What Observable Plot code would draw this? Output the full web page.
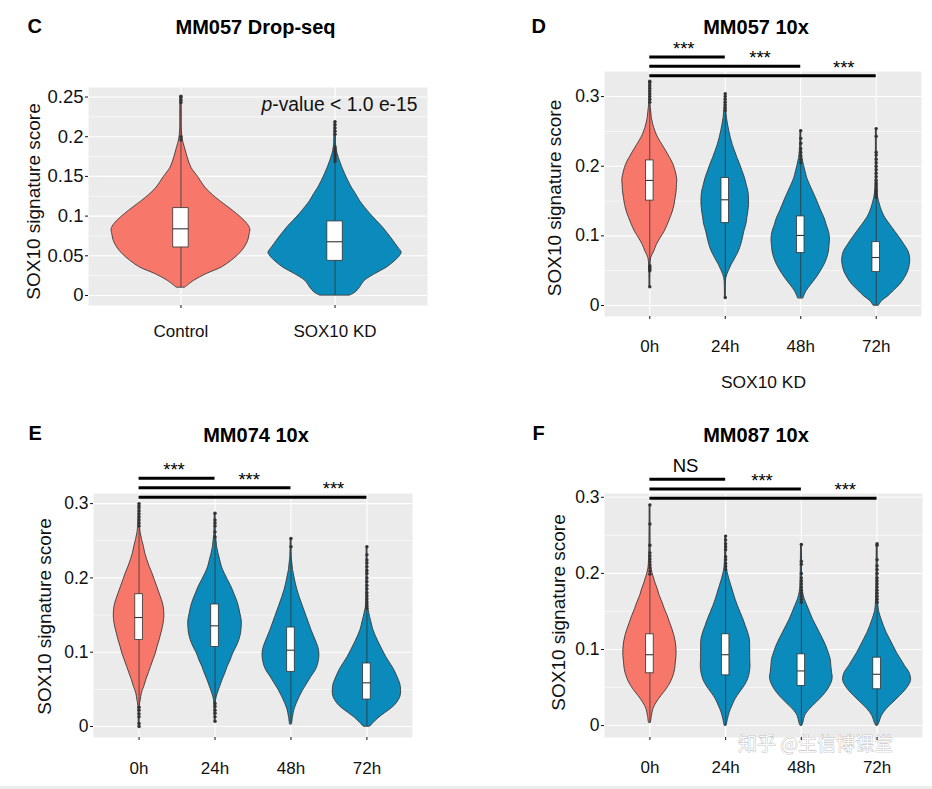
<!DOCTYPE html>
<html><head><meta charset="utf-8">
<script src="https://cdn.jsdelivr.net/npm/d3@7"></script>
<script src="https://cdn.jsdelivr.net/npm/@observablehq/plot@0.6"></script>
<style>
html,body{margin:0;padding:0;background:#fff;}
#fig{position:relative;width:932px;height:789px;overflow:hidden;background:#fff;}
.pan{position:absolute;}
#strip{position:absolute;left:0;top:786px;width:932px;height:3px;background:#ececec;}
</style></head><body><div id="fig"><div id="strip"></div></div>
<script>
// ---------------- DATA ----------------
// Violin profiles: [value, relative density (1 = widest violin of the panel)]
// Panel C: MM057 Drop-seq
const cCats = ["Control", "SOX10 KD"];
const cControl = [[0.0101,0.065],[0.0185,0.19],[0.027,0.37],[0.0353,0.59],[0.0437,0.73],[0.052,0.84],[0.0605,0.92],[0.069,0.97],[0.077,0.99],[0.0835,1.0],[0.0899,0.96],[0.098,0.87],[0.1067,0.75],[0.115,0.625],[0.1235,0.5],[0.136,0.35],[0.149,0.25],[0.161,0.15],[0.174,0.096],[0.186,0.058],[0.195,0.029],[0.2077,0.012],[0.2287,0.01],[0.251,0.008]];
const cKD = [[0,0.22],[0.004,0.3],[0.0101,0.36],[0.0185,0.43],[0.027,0.58],[0.0353,0.75],[0.0437,0.87],[0.05,0.94],[0.054,0.96],[0.0605,0.91],[0.069,0.84],[0.077,0.77],[0.0857,0.69],[0.094,0.6],[0.1025,0.51],[0.111,0.43],[0.119,0.36],[0.128,0.3],[0.136,0.24],[0.1445,0.19],[0.153,0.145],[0.161,0.106],[0.17,0.067],[0.178,0.038],[0.186,0.019],[0.195,0.012],[0.219,0.008]];
const cQ1 = [0.0605, 0.0437];
const cMed = [0.084, 0.0677];
const cQ3 = [0.110, 0.0933];
const cOutControl = [0.196, 0.2, 0.243, 0.246, 0.249, 0.251];
const cOutKD = [0.169, 0.172, 0.175, 0.178, 0.181, 0.184, 0.187, 0.203, 0.207, 0.211, 0.215, 0.219];
const cYTicks = [0, 0.05, 0.1, 0.15, 0.2, 0.25];
const cYMinor = [0.025, 0.075, 0.125, 0.175, 0.225];
const cPValue = "p-value < 1.0 e-15";

// Shared time categories
const timeCats = ["0h", "24h", "48h", "72h"];
const tYTicks = [0, 0.1, 0.2, 0.3];
const tYMinor = [0.05, 0.15, 0.25];
const sigEnd = [2, 3, 4];

// Panel D: MM057 10x
const d0 = [[0.027,0.01],[0.04,0.012],[0.05,0.015],[0.058,0.02],[0.068,0.04],[0.0776,0.13],[0.0872,0.21],[0.0967,0.32],[0.1063,0.44],[0.116,0.53],[0.1255,0.61],[0.135,0.68],[0.1446,0.73],[0.154,0.76],[0.1638,0.79],[0.1734,0.8],[0.1805,0.81],[0.1925,0.76],[0.202,0.7],[0.2117,0.6],[0.221,0.49],[0.2307,0.37],[0.2404,0.25],[0.25,0.165],[0.26,0.1],[0.2692,0.06],[0.279,0.04],[0.2883,0.02],[0.305,0.012],[0.322,0.01]];
const d24 = [[0.0115,0.01],[0.03,0.015],[0.0393,0.03],[0.0489,0.1],[0.0585,0.19],[0.068,0.3],[0.0776,0.4],[0.0872,0.47],[0.0967,0.52],[0.106,0.56],[0.116,0.62],[0.1255,0.65],[0.135,0.68],[0.1446,0.7],[0.154,0.7],[0.1638,0.68],[0.1734,0.63],[0.183,0.58],[0.1925,0.51],[0.202,0.44],[0.2117,0.36],[0.221,0.29],[0.2307,0.22],[0.2404,0.165],[0.25,0.12],[0.26,0.08],[0.2692,0.05],[0.279,0.03],[0.2883,0.02],[0.304,0.01]];
const d48 = [[0.0105,0.08],[0.0201,0.165],[0.0297,0.31],[0.0393,0.46],[0.0489,0.59],[0.0585,0.7],[0.068,0.78],[0.0776,0.83],[0.0872,0.85],[0.0967,0.86],[0.106,0.83],[0.116,0.76],[0.1255,0.7],[0.135,0.61],[0.1446,0.53],[0.154,0.45],[0.1638,0.36],[0.1734,0.27],[0.183,0.19],[0.1925,0.14],[0.202,0.09],[0.2117,0.05],[0.221,0.03],[0.235,0.015],[0.2515,0.01]];
const d72 = [[0,0.08],[0.0062,0.17],[0.0134,0.36],[0.0201,0.5],[0.0297,0.7],[0.0393,0.84],[0.0489,0.94],[0.0585,0.99],[0.068,1.0],[0.0776,0.95],[0.0872,0.83],[0.0967,0.7],[0.106,0.56],[0.116,0.41],[0.1255,0.27],[0.135,0.175],[0.1446,0.11],[0.154,0.06],[0.1638,0.03],[0.18,0.015],[0.2537,0.01]];
const dQ1 = [0.1506, 0.1183, 0.0752, 0.0479];
const dMed = [0.1796, 0.1518, 0.1006, 0.0689];
const dQ3 = [0.2083, 0.183, 0.1279, 0.0909];
const dOut0 = [0.027, 0.05, 0.052, 0.055, 0.057, 0.292, 0.296, 0.3, 0.304, 0.308, 0.312, 0.316, 0.32, 0.322];
const dOut24 = [0.0115, 0.28, 0.284, 0.288, 0.292, 0.296, 0.3, 0.304];
const dOut48 = [0.205, 0.21, 0.215, 0.22, 0.225, 0.233, 0.24, 0.251];
const dOut72 = [0.155, 0.158, 0.161, 0.164, 0.167, 0.17, 0.173, 0.176, 0.18, 0.185, 0.19, 0.195, 0.2, 0.205, 0.21, 0.216, 0.22, 0.243, 0.254];
const dSigY = [0.3567, 0.3434, 0.3300];
const dSigLabel = ["***", "***", "***"];
const dSigLabelX = [1.45, 2.46, 3.57];

// Panel E: MM074 10x
const e0 = [[0,0.01],[0.015,0.015],[0.0309,0.03],[0.0354,0.05],[0.0444,0.08],[0.0534,0.15],[0.0624,0.21],[0.0713,0.28],[0.0803,0.35],[0.0893,0.42],[0.0982,0.49],[0.107,0.54],[0.116,0.6],[0.125,0.65],[0.134,0.7],[0.143,0.73],[0.1498,0.74],[0.1611,0.72],[0.17,0.67],[0.179,0.6],[0.188,0.53],[0.197,0.46],[0.206,0.39],[0.215,0.31],[0.224,0.24],[0.233,0.18],[0.242,0.14],[0.251,0.09],[0.26,0.05],[0.2687,0.03],[0.3,0.01]];
const e24 = [[0.0073,0.01],[0.02,0.015],[0.0354,0.03],[0.0444,0.08],[0.0534,0.15],[0.0624,0.22],[0.0713,0.3],[0.0803,0.37],[0.0893,0.46],[0.0982,0.53],[0.107,0.63],[0.116,0.71],[0.125,0.76],[0.134,0.78],[0.143,0.78],[0.152,0.74],[0.1611,0.7],[0.17,0.64],[0.179,0.56],[0.188,0.48],[0.197,0.38],[0.206,0.28],[0.215,0.2],[0.224,0.15],[0.233,0.1],[0.242,0.06],[0.251,0.04],[0.26,0.02],[0.287,0.01]];
const e48 = [[0.0031,0.03],[0.0132,0.06],[0.0221,0.1],[0.0311,0.17],[0.0401,0.26],[0.049,0.36],[0.058,0.48],[0.067,0.6],[0.076,0.73],[0.085,0.8],[0.0938,0.83],[0.1027,0.82],[0.1117,0.76],[0.1207,0.68],[0.1297,0.6],[0.1386,0.53],[0.1476,0.46],[0.1566,0.39],[0.1655,0.32],[0.1745,0.25],[0.1835,0.19],[0.1924,0.14],[0.2014,0.1],[0.2104,0.06],[0.2194,0.04],[0.2283,0.02],[0.253,0.01]];
const e72 = [[0,0.1],[0.0045,0.19],[0.0112,0.34],[0.0179,0.53],[0.0247,0.73],[0.0311,0.87],[0.0401,0.98],[0.049,1.0],[0.058,0.97],[0.067,0.89],[0.076,0.8],[0.085,0.68],[0.0938,0.56],[0.1027,0.46],[0.1117,0.36],[0.1207,0.27],[0.1297,0.19],[0.1386,0.14],[0.1476,0.09],[0.1566,0.05],[0.161,0.03],[0.2,0.015],[0.242,0.01]];
const eQ1 = [0.1163, 0.107, 0.0736, 0.0363];
const eMed = [0.1467, 0.1355, 0.1027, 0.0588];
const eQ3 = [0.178, 0.1642, 0.1332, 0.0848];
const eOut0 = [0, 0.004, 0.013, 0.017, 0.022, 0.026, 0.27, 0.274, 0.278, 0.282, 0.286, 0.29, 0.294, 0.297, 0.3];
const eOut24 = [0.007, 0.013, 0.018, 0.022, 0.027, 0.031, 0.255, 0.262, 0.27, 0.274, 0.278, 0.287];
const eOut48 = [0.242, 0.253];
const eOut72 = [0.159, 0.162, 0.165, 0.168, 0.172, 0.176, 0.18, 0.185, 0.19, 0.195, 0.2, 0.206, 0.21, 0.215, 0.22, 0.224, 0.231, 0.242];
const eSigY = [0.3342, 0.3212, 0.3086];
const eSigLabel = ["***", "***", "***"];
const eSigLabelX = [1.46, 2.45, 3.56];

// Panel F: MM087 10x
const f0 = [[0.0039,0.03],[0.0127,0.06],[0.0214,0.1],[0.0302,0.2],[0.039,0.34],[0.0477,0.49],[0.0565,0.61],[0.0652,0.69],[0.074,0.74],[0.0827,0.76],[0.0915,0.78],[0.1002,0.78],[0.109,0.76],[0.1177,0.72],[0.1265,0.66],[0.1352,0.59],[0.144,0.52],[0.1527,0.44],[0.1615,0.37],[0.1702,0.29],[0.179,0.23],[0.1877,0.16],[0.1965,0.1],[0.2052,0.05],[0.214,0.03],[0.24,0.015],[0.2905,0.01]];
const f24 = [[0,0.03],[0.0083,0.07],[0.017,0.12],[0.0258,0.2],[0.0346,0.29],[0.0433,0.42],[0.0521,0.56],[0.0608,0.66],[0.0696,0.71],[0.0783,0.73],[0.0871,0.72],[0.0958,0.72],[0.1046,0.72],[0.1133,0.71],[0.1221,0.66],[0.1308,0.59],[0.1396,0.52],[0.1483,0.44],[0.1571,0.36],[0.1658,0.29],[0.1746,0.23],[0.1833,0.17],[0.1921,0.11],[0.2008,0.06],[0.2096,0.03],[0.2488,0.01]];
const f48 = [[0,0.03],[0.0039,0.06],[0.0127,0.11],[0.0214,0.25],[0.0302,0.45],[0.039,0.64],[0.0477,0.79],[0.0565,0.89],[0.063,0.92],[0.0696,0.9],[0.0783,0.88],[0.0871,0.86],[0.0958,0.8],[0.1046,0.73],[0.1133,0.64],[0.1221,0.54],[0.1308,0.44],[0.1396,0.34],[0.1483,0.26],[0.1571,0.18],[0.1658,0.1],[0.1746,0.05],[0.1833,0.03],[0.2382,0.01]];
const f72 = [[0,0.03],[0.0039,0.07],[0.0127,0.14],[0.0214,0.28],[0.0302,0.48],[0.039,0.68],[0.0477,0.86],[0.0565,0.98],[0.0608,1.0],[0.0696,0.95],[0.0783,0.82],[0.0871,0.7],[0.0958,0.58],[0.1046,0.48],[0.1133,0.38],[0.1221,0.28],[0.1308,0.2],[0.1396,0.13],[0.1483,0.07],[0.1571,0.04],[0.2382,0.01]];
const fQ1 = [0.0687, 0.066, 0.0521, 0.0477];
const fMed = [0.0931, 0.0931, 0.0718, 0.0674];
const fQ3 = [0.1199, 0.1199, 0.0936, 0.0892];
const fOut0 = [0.199, 0.203, 0.207, 0.211, 0.215, 0.219, 0.223, 0.227, 0.237, 0.265, 0.29];
const fOut24 = [0.205, 0.209, 0.213, 0.218, 0.222, 0.231, 0.235, 0.239, 0.244, 0.249];
const fOut48 = [0.162, 0.166, 0.17, 0.174, 0.178, 0.182, 0.186, 0.19, 0.194, 0.2, 0.212, 0.216, 0.238];
const fOut72 = [0.162, 0.166, 0.17, 0.174, 0.178, 0.182, 0.186, 0.19, 0.194, 0.2, 0.205, 0.21, 0.218, 0.237, 0.239];
const fSigY = [0.3238, 0.3110, 0.2988];
const fSigLabel = ["NS", "***", "***"];
const fSigLabelX = [1.47, 2.48, 3.58];

const yTitle = "SOX10 signature score";
const watermark = "知乎 @生信博课堂";

// ---------------- DRAWING ----------------
const SALMON = "#F7776B", BLUE = "#0A8BBB", DARK = "#333333", BG = "#EBEBEB", TXT = "#111111";
const FONT = '"Liberation Sans", Arial, Helvetica, sans-serif';
const HALF = 0.45;   // half-width of the widest violin (category units)
const BOXH = 0.05;   // half-width of the boxes

function makePanel(cfg) {
  const n = cfg.cats.length;
  const idx = d3.range(1, n + 1);
  const marks = [
    Plot.frame({fill: BG, stroke: "none"}),
    Plot.gridY(cfg.minor, {stroke: "white", strokeOpacity: 1, strokeWidth: 0.55}),
    Plot.gridY(cfg.ticks, {stroke: "white", strokeOpacity: 1, strokeWidth: 1.1}),
    Plot.gridX(idx, {stroke: "white", strokeOpacity: 1, strokeWidth: 1.1})
  ];
  cfg.profiles.forEach((prof, k) => {
    const rows = prof.map(([v, d]) => ({i: k + 1, v, d}));
    marks.push(Plot.areaX(rows, {
      y: "v", x1: r => r.i - HALF * r.d, x2: r => r.i + HALF * r.d,
      fill: k === 0 ? SALMON : BLUE, stroke: "#3a3a3a", strokeWidth: 0.9, curve: "catmull-rom"
    }));
  });
  const boxes = idx.map(i => ({
    i, lo: cfg.profiles[i - 1][0][0], hi: cfg.profiles[i - 1][cfg.profiles[i - 1].length - 1][0],
    q1: cfg.q1[i - 1], med: cfg.med[i - 1], q3: cfg.q3[i - 1]
  }));
  marks.push(Plot.ruleX(boxes, {x: "i", y1: "lo", y2: "hi", stroke: DARK, strokeWidth: 0.8}));
  marks.push(Plot.rect(boxes, {x1: d => d.i - BOXH, x2: d => d.i + BOXH, y1: "q1", y2: "q3", fill: "white", stroke: DARK, strokeWidth: 0.8}));
  marks.push(Plot.ruleY(boxes, {y: "med", x1: d => d.i - BOXH, x2: d => d.i + BOXH, stroke: DARK, strokeWidth: 1.1}));
  const outl = cfg.outliers.flatMap((arr, k) => arr.map(v => ({i: k + 1, v})));
  marks.push(Plot.dot(outl, {x: "i", y: "v", r: 1.7, fill: DARK, stroke: "none"}));
  if (cfg.sigY) {
    const sig = cfg.sigY.map((y, k) => ({y, end: sigEnd[k], label: cfg.sigLabel[k], lx: cfg.sigLabelX[k]}));
    marks.push(Plot.ruleY(sig, {y: "y", x1: () => 1, x2: "end", stroke: "black", strokeWidth: 3}));
    sig.forEach(s => marks.push(Plot.text([s], {
      x: "lx", y: "y", text: "label", lineAnchor: "bottom", textAnchor: "middle",
      dy: s.label === "NS" ? -7 : -2, fontSize: 18.5, fill: "black"
    })));
  }
  // extra marks (drawn under axes)
  if (cfg.extra) marks.push(...cfg.extra);
  // axes
  marks.push(Plot.axisY(cfg.ticks, {tickSize: 3, tickPadding: 2, tickFormat: d3.format("~g"), fontSize: cfg.yFont, color: TXT, label: null}));
  marks.push(Plot.axisX(idx, {tickSize: 3, tickPadding: cfg.xPad, tickFormat: i => cfg.cats[i - 1], fontSize: 17, color: TXT, label: null}));
  // texts
  const T = cfg.text;
  marks.push(Plot.text([cfg.letter], {text: d => d, frameAnchor: "top-left", textAnchor: "start", lineAnchor: "bottom", dx: T.letter[0], dy: T.letter[1], fontWeight: "bold", fontSize: 20, fill: "black"}));
  marks.push(Plot.text([cfg.title], {text: d => d, frameAnchor: "top", textAnchor: "middle", lineAnchor: "bottom", dx: T.title[0], dy: T.title[1], fontWeight: "bold", fontSize: 20, fill: "black"}));
  marks.push(Plot.text([yTitle], {text: d => d, frameAnchor: "left", rotate: -90, textAnchor: "middle", lineAnchor: "middle", dx: T.ytitle[0], dy: T.ytitle[1], fontSize: 19, fill: TXT}));
  const svg = Plot.plot({
    width: cfg.w, height: cfg.h,
    marginLeft: cfg.m[0], marginRight: cfg.m[1], marginTop: cfg.m[2], marginBottom: cfg.m[3],
    x: {type: "linear", domain: [0.4, n + 0.6], axis: null},
    y: {domain: cfg.yDomain, axis: null},
    style: {fontFamily: FONT, background: "transparent", overflow: "visible", color: TXT},
    marks
  });
  const wrap = document.createElement("div");
  wrap.className = "pan";
  wrap.style.left = cfg.pos[0] + "px";
  wrap.style.top = cfg.pos[1] + "px";
  wrap.appendChild(svg);
  document.getElementById("fig").appendChild(wrap);
  return svg;
}

// Panel C
const svgC = makePanel({
  cats: cCats, profiles: [cControl, cKD], q1: cQ1, med: cMed, q3: cQ3,
  outliers: [cOutControl, cOutKD], ticks: cYTicks, minor: cYMinor, yDomain: [-0.0126, 0.262],
  yFont: 18.5, xPad: 16.5, letter: "C", title: "MM057 Drop-seq",
  w: 466, h: 400, m: [88, 39, 87, 95], pos: [0, 0],
  text: {letter: [-61, -55], title: [-2.5, -54], ytitle: [-55, 5]},
  extra: [Plot.text([cPValue], {text: d => d, frameAnchor: "top-right", textAnchor: "end", lineAnchor: "bottom", dx: -10, dy: 23, fontSize: 19.3, fill: TXT})]
});
svgC.querySelectorAll("text").forEach(t => {
  if (t.textContent === cPValue) {
    const ns = "http://www.w3.org/2000/svg";
    t.textContent = "";
    const a = document.createElementNS(ns, "tspan");
    a.setAttribute("font-style", "italic");
    a.textContent = cPValue.slice(0, 1);
    const b = document.createElementNS(ns, "tspan");
    b.textContent = cPValue.slice(1);
    t.append(a, b);
  }
});

// Panel D
makePanel({
  cats: timeCats, profiles: [d0, d24, d48, d72], q1: dQ1, med: dMed, q3: dQ3,
  outliers: [dOut0, dOut24, dOut48, dOut72], ticks: tYTicks, minor: tYMinor, yDomain: [-0.0158, 0.336],
  sigY: dSigY, sigLabel: dSigLabel, sigLabelX: dSigLabelX,
  yFont: 17.5, xPad: 20, letter: "D", title: "MM057 10x",
  w: 466, h: 400, m: [138, 11, 71, 84], pos: [466, 0],
  text: {letter: [-73, -39], title: [-7, -38], ytitle: [-50, 4]},
  extra: [Plot.text(["SOX10 KD"], {text: d => d, frameAnchor: "bottom", textAnchor: "middle", lineAnchor: "bottom", dx: 0.5, dy: 71, fontSize: 17.4, fill: TXT})]
});

// Panel E
makePanel({
  cats: timeCats, profiles: [e0, e24, e48, e72], q1: eQ1, med: eMed, q3: eQ3,
  outliers: [eOut0, eOut24, eOut48, eOut72], ticks: tYTicks, minor: tYMinor, yDomain: [-0.0148, 0.3136],
  sigY: eSigY, sigLabel: eSigLabel, sigLabelX: eSigLabelX,
  yFont: 17.5, xPad: 21, letter: "E", title: "MM074 10x",
  w: 466, h: 394, m: [93, 54, 98, 52], pos: [0, 395],
  text: {letter: [-65, -53.7], title: [3, -51.3], ytitle: [-49, 1]}
});

// Panel F
makePanel({
  cats: timeCats, profiles: [f0, f24, f48, f72], q1: fQ1, med: fMed, q3: fQ3,
  outliers: [fOut0, fOut24, fOut48, fOut72], ticks: tYTicks, minor: tYMinor, yDomain: [-0.0157, 0.305],
  sigY: fSigY, sigLabel: fSigLabel, sigLabelX: fSigLabelX,
  yFont: 17.5, xPad: 20.7, letter: "F", title: "MM087 10x",
  w: 466, h: 394, m: [138, 10, 98, 52], pos: [466, 395],
  text: {letter: [-72, -53.4], title: [-7.5, -52], ytitle: [-46, -3]},
  extra: [Plot.text([watermark], {text: d => d, frameAnchor: "bottom-left", textAnchor: "middle", lineAnchor: "middle", dx: 211, dy: 7, fontSize: 19, fontFamily: '"Noto Sans CJK SC", sans-serif', fill: "white", fillOpacity: 0.85, stroke: "#9a9a9a", strokeWidth: 0.7, strokeOpacity: 0.8})]
});
</script></body></html>
